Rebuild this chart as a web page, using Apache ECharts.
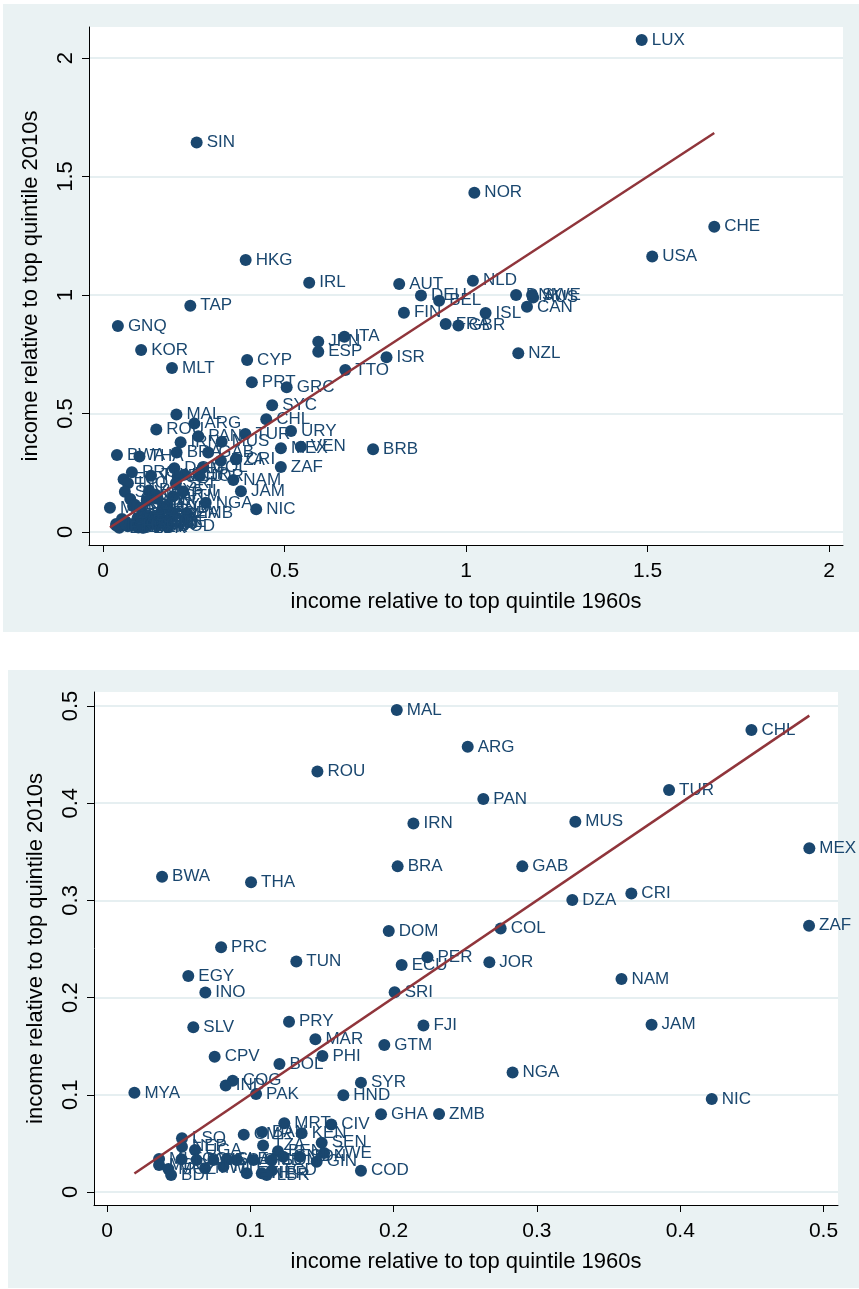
<!DOCTYPE html>
<html><head><meta charset="utf-8">
<script src="https://cdn.jsdelivr.net/npm/echarts@6/dist/echarts.min.js"></script>
<style>html,body{margin:0;padding:0;background:#fff}#c{width:859px;height:1289px}</style>
</head><body><div id="c"></div>
<script>
// country codes and values (income relative to top quintile)
const codes = ["LUX","SIN","NOR","CHE","USA","HKG","NLD","IRL","AUT","DNK","SWE","AUS","DEU","BEL","TAP","CAN","FIN","ISL","FRA","GBR","GNQ","ITA","JPN","KOR","ESP","NZL","ISR","CYP","MLT","TTO","PRT","GRC","SYC","URY","VEN","BRB",
"MAL","ARG","ROU","CHL","TUR","PAN","IRN","MUS","MEX","BRA","GAB","BWA","THA","CRI","DZA","ZAF","COL","DOM","PRC","PER","TUN","JOR","ECU","EGY","NAM","INO","SRI","PRY","JAM","FJI","SLV","MAR","GTM","CPV","PHI","BOL","NGA","COG","SYR","IND","MYA","PAK","HND","NIC","ZMB","GHA",
"LSO","NEP","UGA","MLI","MDG","MOZ","BDI","MWI","CMR","BAN","MRT","KEN","CIV","TZA","BEN","SEN","ZWE","GIN","COD","NER","ETH","TCD",
"TGO","RWA","BFA","SLE","CAF","GMB","GNB","SDN","HTI","LBR","SOM"];
const x1960 = [1.484,0.258,1.023,1.684,1.513,0.393,1.019,0.568,0.816,1.138,1.182,1.185,0.876,0.926,0.2405,1.168,0.829,1.054,0.944,0.979,0.041,0.665,0.593,0.105,0.593,1.144,0.781,0.397,0.19,0.6675,0.41,0.506,0.466,0.518,0.545,0.744,
0.2022,0.2517,0.1468,0.4497,0.3922,0.2626,0.2138,0.3268,0.4901,0.2028,0.2898,0.0384,0.1005,0.3659,0.3247,0.4899,0.2747,0.1966,0.0796,0.2236,0.1321,0.2668,0.2056,0.0567,0.359,0.0686,0.2007,0.127,0.380,0.2208,0.0602,0.1454,0.1935,0.0751,0.1503,0.1203,0.283,0.0877,0.1772,0.0828,0.0191,0.104,0.1649,0.422,0.2317,0.1912,
0.0523,0.0523,0.0614,0.0363,0.0363,0.0428,0.0447,0.0684,0.0954,0.1082,0.1237,0.1358,0.1565,0.1089,0.1193,0.1498,0.1515,0.1463,0.1772,0.108,0.0975,0.115,
0.052,0.0625,0.0742,0.0835,0.0905,0.1022,0.123,0.1347,0.0812,0.1114,0.115];
const y2010 = [2.076,1.644,1.432,1.288,1.163,1.148,1.060,1.052,1.046,1.000,1.000,0.99,0.998,0.976,0.955,0.950,0.925,0.924,0.878,0.871,0.869,0.824,0.803,0.768,0.761,0.754,0.737,0.726,0.692,0.684,0.632,0.611,0.535,0.426,0.36,0.349,
0.496,0.458,0.4325,0.4753,0.4136,0.4043,0.379,0.381,0.3536,0.335,0.335,0.3244,0.3186,0.3071,0.3004,0.274,0.2711,0.2685,0.2517,0.2415,0.2371,0.2364,0.2335,0.2222,0.219,0.2052,0.2055,0.1752,0.172,0.1713,0.1694,0.1571,0.1512,0.1392,0.1399,0.1317,0.123,0.1145,0.1125,0.1096,0.102,0.1008,0.0995,0.0957,0.0802,0.0799,
0.0553,0.0466,0.0432,0.034,0.0278,0.0236,0.0175,0.0244,0.059,0.0616,0.0707,0.0605,0.0695,0.0477,0.042,0.0507,0.04,0.0312,0.0219,0.0192,0.0192,0.022,
0.0336,0.0329,0.0329,0.0336,0.0329,0.0329,0.0363,0.0363,0.026,0.0175,0.0329];

const topTicks = [0, 0.5, 1, 1.5, 2];
const botTicks = [0, 0.1, 0.2, 0.3, 0.4, 0.5];
const xTitle = "income relative to top quintile 1960s";
const yTitle = "income relative to top quintile 2010s";
const botLimit = 0.5;

const F = '"Liberation Sans", Arial, sans-serif';
const NAVY = '#1A476F', MAROON = '#90353B', BG = '#EAF2F3', GRIDC = '#E6EFF1';

const allPts = codes.map((c, i) => ({ name: c, value: [x1960[i], y2010[i]] }));
const botPts = allPts.filter(p => p.value[0] <= botLimit && p.value[1] <= botLimit);
function diag(pts) {
  const xs = pts.map(p => p.value[0]);
  const lo = Math.min(...xs), hi = Math.max(...xs);
  return [[lo, lo], [hi, hi]];
}

function xAx(gi, min, max, ticks) {
  return {
    type: 'value', gridIndex: gi, min, max,
    name: xTitle, nameLocation: 'middle', nameGap: 46,
    nameTextStyle: { fontFamily: F, fontSize: 22, color: '#000' },
    axisLine: { show: true, onZero: false, lineStyle: { color: '#000', width: 1 } },
    axisTick: { show: true, customValues: ticks, length: 7, lineStyle: { color: '#000', width: 1 } },
    axisLabel: { customValues: ticks, fontFamily: F, fontSize: 21, color: '#000', margin: 16 },
    splitLine: { show: false }
  };
}
function yAx(gi, min, max, ticks) {
  return {
    type: 'value', gridIndex: gi, min, max,
    name: yTitle, nameLocation: 'middle', nameGap: 47, nameRotate: 90,
    nameTextStyle: { fontFamily: F, fontSize: 22, color: '#000' },
    axisLine: { show: true, onZero: false, lineStyle: { color: '#000', width: 1 } },
    axisTick: { show: true, customValues: ticks, length: 7, lineStyle: { color: '#000', width: 1 } },
    axisLabel: { customValues: ticks, rotate: 90, fontFamily: F, fontSize: 22, color: '#000', margin: 12 },
    splitLine: { show: true, lineStyle: { color: GRIDC, width: 2 } }
  };
}
function scat(gi, data) {
  return {
    type: 'scatter', xAxisIndex: gi, yAxisIndex: gi, data, symbolSize: 12, z: 3,
    itemStyle: { color: NAVY, opacity: 1 },
    label: { show: true, position: 'right', distance: 4, formatter: '{b}', fontFamily: F, fontSize: 17, color: NAVY },
    emphasis: { disabled: true }
  };
}
function fit(gi, data) {
  return {
    type: 'line', xAxisIndex: gi, yAxisIndex: gi, data, symbol: 'none', z: 5,
    lineStyle: { color: MAROON, width: 2.5 }, emphasis: { disabled: true }
  };
}

const chart = echarts.init(document.getElementById('c'), null, { renderer: 'canvas' });
chart.setOption({
  animation: false,
  backgroundColor: '#fff',
  graphic: [
    { type: 'rect', shape: { x: 3, y: 4, width: 856, height: 628 }, style: { fill: BG }, z: -10, silent: true },
    { type: 'rect', shape: { x: 8, y: 670, width: 851, height: 618 }, style: { fill: BG }, z: -10, silent: true }
  ],
  grid: [
    { left: 89, top: 27, width: 754, height: 518, show: true, backgroundColor: '#fff', borderWidth: 0 },
    { left: 94, top: 692, width: 744, height: 513, show: true, backgroundColor: '#fff', borderWidth: 0 }
  ],
  xAxis: [xAx(0, -0.0386, 2.0386, topTicks), xAx(1, -0.0091, 0.5101, botTicks)],
  yAxis: [yAx(0, -0.0549, 2.131, topTicks), yAx(1, -0.0134, 0.5144, botTicks)],
  series: [scat(0, allPts), fit(0, diag(allPts)), scat(1, botPts), fit(1, diag(botPts))]
});
</script></body></html>
